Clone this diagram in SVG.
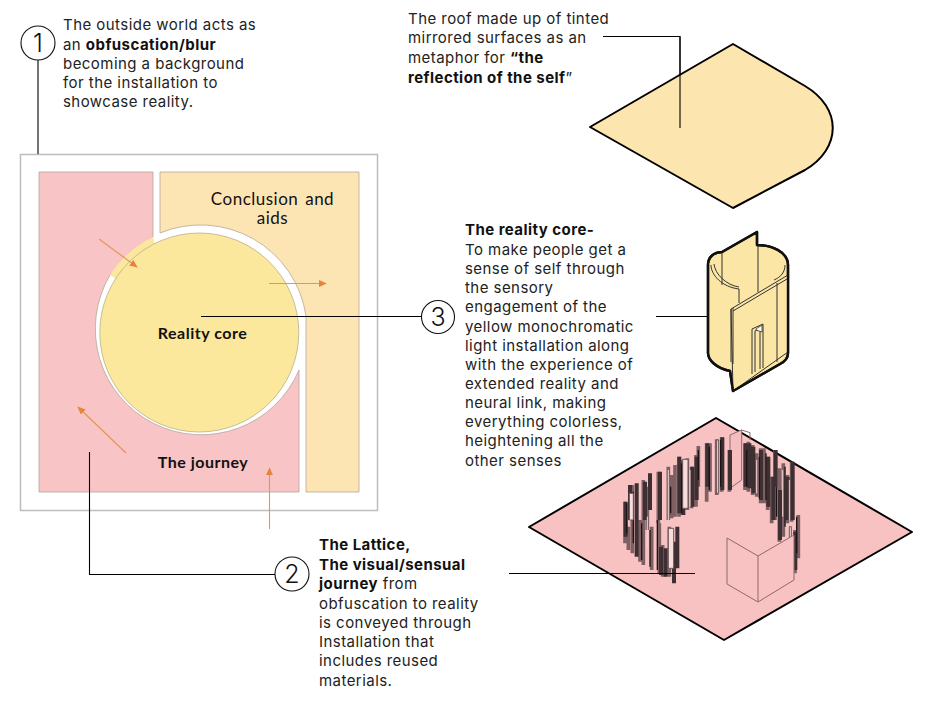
<svg xmlns="http://www.w3.org/2000/svg" width="925" height="704" viewBox="0 0 925 704">
<defs>
<marker id="ah" viewBox="0 0 10 10" refX="9" refY="5" markerWidth="8" markerHeight="7" markerUnits="userSpaceOnUse" orient="auto" preserveAspectRatio="none"><path d="M0 0L10 5L0 10Z" fill="#E5843D"/></marker>
</defs>
<style>
text{font-family:"Inter","Liberation Sans",sans-serif;font-size:15px;letter-spacing:.45px;fill:#222}
.b{font-weight:700;fill:#111}
.num{font-size:25px;font-weight:300;text-anchor:middle;fill:#111;letter-spacing:0}
.lab{font-family:"Lato","Liberation Sans",sans-serif;text-anchor:middle;fill:#111}
.gl{font-size:17px;font-weight:400;letter-spacing:.5px;word-spacing:2px}
.bl{font-size:16px;font-weight:700;letter-spacing:.5px}
.ln{fill:none;stroke:#000;stroke-width:1.1}
.oa{fill:none;stroke:#E8925A;stroke-width:1.1;marker-end:url(#ah)}
.c{fill:#fff;stroke:#111;stroke-width:1.1}
.zone{stroke:#b5a79a;stroke-width:.8}
.iso{stroke:#000;stroke-width:2;stroke-linejoin:round}
.core{fill:#FBE6A6;stroke:#111;stroke-width:2.4;stroke-linejoin:round}
.thin{fill:none;stroke:#333;stroke-width:1}
.bd{fill:none;stroke:#3d2f32;stroke-width:12}
.bm{fill:none;stroke:#7d6064;stroke-width:11}
.bk{fill:none;stroke:#1c1416;stroke-width:4}
.pl{fill:none;stroke:#F3D3D3;stroke-width:3}
.pn{fill:none;stroke:#8F6A6C;stroke-width:1}
</style>
<rect width="925" height="704" fill="#fff"/>

<g id="plan">
<rect x="20.500" y="154.500" width="357" height="356" fill="#fff" stroke="#bdbdbd" stroke-width="1.500"/>
<path id="journey" class="zone" fill="#F8C4C5" d="M39 172H153V237L110 275A106 106 0 1 0 299 370V492H39Z"/>
<path id="conclusion" class="zone" fill="#FDE4B3" d="M160 172H359V492H306V316A106.500 106.500 0 0 0 160 233Z"/>
<path id="core-wedge" fill="#FBE79E" d="M153 237A106 106 0 0 0 110 275L116 279L155 245Z"/>
<circle id="reality-core" cx="199.300" cy="332.500" r="99.500" fill="#FBE89D" stroke="#b8b08a" stroke-width=".8"/>
<text class="lab gl" x="272.500" y="205">Conclusion and</text>
<text class="lab gl" x="272.500" y="224">aids</text>
<text class="lab bl" x="202.500" y="339">Reality core</text>
<text class="lab bl" x="203" y="468">The journey</text>
</g>

<g id="connectors">
<path class="ln" d="M38 60V154"/>
<path class="ln" d="M201 316.500H422"/>
<path class="ln" d="M656 316.500H708"/>
<path class="ln" d="M89.500 452V574.500H275"/>
<path class="ln" d="M603 36.500H680V128"/>
<path class="oa" d="M99 239L137 267"/>
<path class="oa" d="M269 283.500H326"/>
<path class="oa" d="M126 453L78 407"/>
<path class="oa" d="M269.500 529V468"/>
</g>

<g id="node-1">
<circle class="c" cx="38" cy="43" r="17"/>
<text class="num" x="38" y="52">1</text>
<text x="63" y="30">The outside world acts as</text>
<text x="63" y="50">an <tspan class="b">obfuscation/blur</tspan></text>
<text x="63" y="69">becoming a background</text>
<text x="63" y="88">for the installation to</text>
<text x="63" y="107">showcase reality.</text>
</g>

<g id="roof">
<text x="408" y="24">The roof made up of tinted</text>
<text x="408" y="43">mirrored surfaces as an</text>
<text x="408" y="63">metaphor for <tspan class="b">“the</tspan></text>
<text x="408" y="83"><tspan class="b">reflection of the self</tspan>”</text>
<path class="iso" fill="#FCE5AE" d="M590 127L733 44L805 86C842 108 842 148 805 170L733 208Z"/>
<path class="ln" d="M680 36.500V128"/>
</g>

<g id="node-3">
<circle class="c" cx="438" cy="317" r="16.500"/>
<text class="num" x="438" y="326">3</text>
<text class="b" x="465" y="235">The reality core-</text>
<text x="465" y="255">To make people get a</text>
<text x="465" y="274">sense of self through</text>
<text x="465" y="293">the sensory</text>
<text x="465" y="312">engagement of the</text>
<text x="465" y="332">yellow monochromatic</text>
<text x="465" y="351">light installation along</text>
<text x="465" y="370">with the experience of</text>
<text x="465" y="389">extended reality and</text>
<text x="465" y="408">neural link, making</text>
<text x="465" y="427">everything colorless,</text>
<text x="465" y="446">heightening all the</text>
<text x="465" y="466">other senses</text>
</g>

<g id="core-model">
<path class="core" d="M708 265C708 257 714 252 722 252L757 232V245C772 245 788 252 788 265V353C788 358 784 362 780 364L733 391L730 371C716 368 708 360 708 353Z"/>
<path class="thin" d="M711 265C711 275 722 287 739 289V303"/>
<path class="thin" d="M714 264C715 274 726 285 739 287"/>
<path class="thin" d="M722 252V285"/>
<path class="thin" d="M758 245V292"/>
<path class="thin" d="M785 265C785 272 781 277 774 280"/>
<path fill="#FBE6A6" stroke="#333" stroke-width="1" d="M731 309L788 275V352L733 391Z"/>
<path class="thin" d="M733 311L787 279"/>
<path class="thin" d="M731 309V362"/>
<path class="thin" d="M733 308V364"/>
<path class="thin" d="M777 283V362"/>
<path class="thin" d="M752 374V329L763 324V368"/>
<path class="thin" d="M755 372V331L760 329V369"/>
<path fill="#fff" stroke="#333" stroke-width=".8" d="M756 329L762 325V332L756 330Z"/>
<path class="core" style="fill:none" d="M708 265V353C708 360 716 368 730 371L733 391L780 364C784 362 788 358 788 353V265C788 252 772 245 757 245V232L722 252C714 252 708 257 708 265Z"/>
</g>

<g id="lattice-model">
<path class="iso" fill="#F8C1C2" d="M529 527L716 418L912 532L724 640Z"/>
<g transform="translate(600 420) scale(.33333)">
<path fill="#F5BDBD" stroke="#8F6A6C" stroke-width="3" d="M390 45L425 30V180L390 205Z"/>
<path fill="none" stroke="#8F6A6C" stroke-width="3" d="M425 30L450 38V60"/>
<path class="bm" d="M75 245V370M85 320V390M97 195V400M120 300V425M130 180V435M142 200V330M155 320V450M175 155V310M178 310V460M188 375V470M208 320V470M205 140V300M215 165V295M225 135V290M237 110V290M248 120V285M262 115V270M275 140V265M288 105V260M295 78V200M320 70V245M330 70V215M350 58V225M365 52V215M388 90V215M435 70V210M445 65V215M458 75V225M470 100V230M482 85V250M492 85V250M503 110V270M515 170V310M525 90V300M538 145V365M550 130V350M562 165V310M575 125V305M595 285V415M585 330V460"/>
<path class="bd" d="M77 245V350M90 195V300M110 190V410M135 185V300M150 160V270M180 155V300M183 380V465M197 385V470M222 365V490M232 320V445M238 110V280M250 150V285M277 140V260M290 110V240M322 70V200M367 52V210M390 90V210M437 70V200M448 70V205M460 80V220M483 90V240M505 110V260M520 170V300M527 90V200M540 210V360M563 170V300M578 125V300M586 335V450"/>
<path class="bk" d="M80 250V340M100 215V370M125 310V420M150 330V440M172 300V450M212 200V280M245 130V280M295 90V180M328 80V210M362 60V200M440 90V200M478 110V235M498 100V240M530 200V290M555 140V320M590 290V400"/>
<path class="pl" d="M93 225V300M142 290V380M205 150V300M270 150V260M340 70V220M470 120V220M548 150V290M568 180V300"/>
<path fill="#F9DCDC" stroke="#6b5558" stroke-width="3" d="M205 325H221V445H205Z M88 220H100V300H88Z M248 118H264V265H248Z M350 60H356V220H350Z M568 320H574V355H568Z"/>
</g>
<path fill="#F8C1C2" stroke="#8F6A6C" stroke-width="1" d="M727 538L758 556L794 535V580L758 602L727 584Z"/>
<path class="pn" d="M758 556V602"/>
</g>
<path class="ln" d="M509 573.500H695"/>

<g id="node-2">
<circle class="c" cx="292" cy="574" r="17"/>
<text class="num" x="292" y="583">2</text>
<text class="b" x="319" y="550">The Lattice,</text>
<text class="b" x="319" y="570">The visual/sensual</text>
<text x="319" y="589"><tspan class="b">journey</tspan> from</text>
<text x="319" y="609">obfuscation to reality</text>
<text x="319" y="628">is conveyed through</text>
<text x="319" y="647">Installation that</text>
<text x="319" y="666">includes reused</text>
<text x="319" y="686">materials.</text>
</g>
</svg>
